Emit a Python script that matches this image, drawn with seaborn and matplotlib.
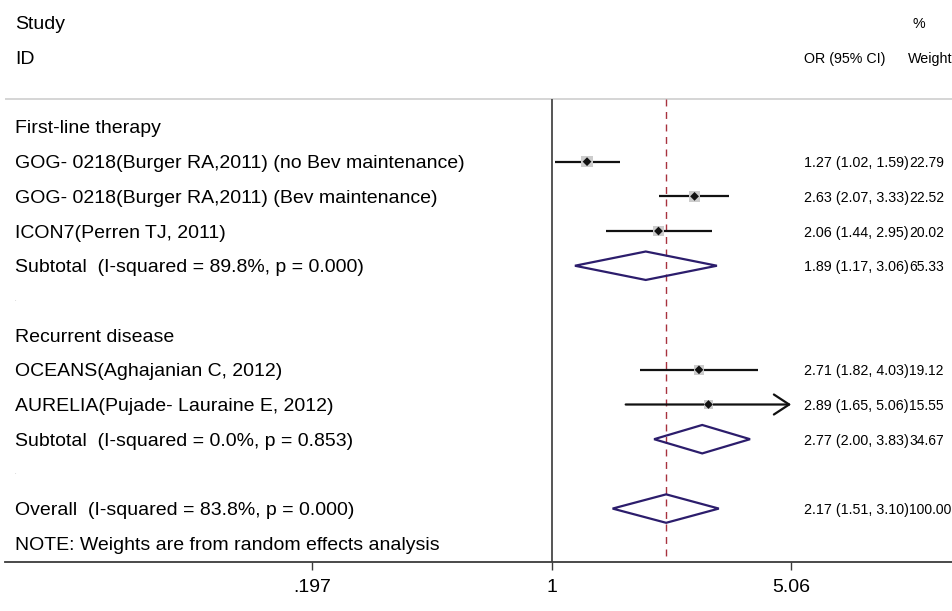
import numpy as np
import pandas as pd
import matplotlib
matplotlib.use("Agg")
import matplotlib.pyplot as plt
from matplotlib.patches import Polygon
import seaborn as sns

# Individual trials: odds ratio, 95% CI and random-effects weight (%)
study_labels = [
    "GOG- 0218(Burger RA,2011) (no Bev maintenance)",
    "GOG- 0218(Burger RA,2011) (Bev maintenance)",
    "ICON7(Perren TJ, 2011)",
    "OCEANS(Aghajanian C, 2012)",
    "AURELIA(Pujade- Lauraine E, 2012)",
]
study_or = [1.27, 2.63, 2.06, 2.71, 2.89]
study_lo = [1.02, 2.07, 1.44, 1.82, 1.65]
study_hi = [1.59, 3.33, 2.95, 4.03, 5.06]
study_wt = [22.79, 22.52, 20.02, 19.12, 15.55]
study_row = [1, 2, 3, 7, 8]

# Pooled estimates (subgroups and overall)
pooled_labels = [
    "Subtotal  (I-squared = 89.8%, p = 0.000)",
    "Subtotal  (I-squared = 0.0%, p = 0.853)",
    "Overall  (I-squared = 83.8%, p = 0.000)",
]
pooled_or = [1.89, 2.77, 2.17]
pooled_lo = [1.17, 2.00, 1.51]
pooled_hi = [3.06, 3.83, 3.10]
pooled_wt = [65.33, 34.67, 100.00]
pooled_row = [4, 9, 11]

group_labels = ["First-line therapy", "Recurrent disease"]
group_row = [0, 6]
spacer_row = [5, 10]
note_text = "NOTE: Weights are from random effects analysis"
note_row = 12

tick_values = [0.197, 1, 5.06]
tick_labels = [".197", "1", "5.06"]
overall_or = pooled_or[-1]

studies = pd.DataFrame({"label": study_labels, "or": study_or, "lo": study_lo,
                        "hi": study_hi, "wt": study_wt, "row": study_row})
pooled = pd.DataFrame({"label": pooled_labels, "or": pooled_or, "lo": pooled_lo,
                       "hi": pooled_hi, "wt": pooled_wt, "row": pooled_row})

sns.set_theme(style="white")
plt.rcParams["font.family"] = ["Liberation Sans", "DejaVu Sans"]
plt.rcParams["text.color"] = "black"
plt.rcParams["xtick.color"] = "black"

W, H = 953, 611
fig = plt.figure(figsize=(W / 100, H / 100), dpi=100)
ax = fig.add_axes([5 / W, 49 / H, 948 / W, 1 - 49 / H])

# x axis on a log scale spanning the whole width; text columns share it
ax.set_xscale("log")
ax.set_xlim(np.exp(-3.702), np.exp(2.717))
ax.set_ylim(12.54, -3.66)

lim_lo, lim_hi = tick_values[0], tick_values[-1]
sep_y = -0.81
y_bottom = 12.54

# header separator and reference lines
ax.axhline(sep_y, color="#d2d2d2", lw=1.3, zorder=1)
ax.vlines(1, sep_y, y_bottom, color="#555555", lw=1.4, zorder=2)
ax.vlines(overall_or, sep_y, y_bottom, color="#a8323e", lw=1.0,
          linestyles=(0, (5, 4)), zorder=2)

# confidence intervals (arrow where the CI runs off the scale)
ci_color = "#111111"
for _, r in studies.iterrows():
    lo = max(r["lo"], lim_lo)
    if r["hi"] >= lim_hi:
        ax.annotate("", xy=(lim_hi, r["row"]), xytext=(lo, r["row"]),
                    arrowprops=dict(arrowstyle="->,head_length=0.55,head_width=0.36",
                                    color=ci_color, lw=1.6, shrinkA=0, shrinkB=0,
                                    mutation_scale=20),
                    zorder=3)
    else:
        ax.hlines(r["row"], lo, r["hi"], color=ci_color, lw=1.6, zorder=3)

# weight boxes and point estimates
sns.scatterplot(data=studies, x="or", y="row", marker="s", s=studies["wt"] * 3.0,
                color="#cccccc", edgecolor="none", ax=ax, zorder=4, legend=False)
sns.scatterplot(data=studies, x="or", y="row", marker="D", s=20,
                color="#111111", edgecolor="none", ax=ax, zorder=5, legend=False)

# pooled diamonds
half_h = 0.41
for _, r in pooled.iterrows():
    pts = [(r["lo"], r["row"]), (r["or"], r["row"] - half_h),
           (r["hi"], r["row"]), (r["or"], r["row"] + half_h)]
    ax.add_patch(Polygon(pts, closed=True, fill=False, edgecolor="#2c1d6c",
                         lw=1.6, joinstyle="miter", zorder=4))

# text columns
tx = ax.get_yaxis_transform()
x_label = 10 / 948
x_ci = 799 / 948
x_wt_head = 903 / 948
x_wt = 904 / 948
big, small, wsize = 14, 10.3, 10

ax.text(x_label, -3, "Study", transform=tx, fontsize=big, va="center_baseline")
ax.text(x_label, -2, "ID", transform=tx, fontsize=big, va="center_baseline")
ax.text(x_wt_head + 5 / 948, -3, "%", transform=tx, fontsize=small, va="center_baseline")
ax.text(x_ci, -2, "OR (95% CI)", transform=tx, fontsize=small, va="center_baseline")
ax.text(x_wt_head, -2, "Weight", transform=tx, fontsize=small, va="center_baseline",
        clip_on=False)

for lab, row in zip(group_labels, group_row):
    ax.text(x_label, row, lab, transform=tx, fontsize=big, va="center_baseline")
for row in spacer_row:
    ax.text(x_label, row - 0.05, ".", transform=tx, fontsize=4, color="#999999",
            va="center_baseline")

for df in (studies, pooled):
    for _, r in df.iterrows():
        ax.text(x_label, r["row"], r["label"], transform=tx, fontsize=big,
                va="center_baseline")
        ax.text(x_ci, r["row"], f"{r['or']:.2f} ({r['lo']:.2f}, {r['hi']:.2f})",
                transform=tx, fontsize=small, va="center_baseline")
        ax.text(x_wt, r["row"], f"{r['wt']:.2f}", transform=tx, fontsize=wsize,
                va="center_baseline")

ax.text(x_label, note_row, note_text, transform=tx, fontsize=big,
        va="center_baseline")

# axis styling
for side in ("left", "right", "top"):
    ax.spines[side].set_visible(False)
ax.spines["bottom"].set_color("#3a3a3a")
ax.spines["bottom"].set_linewidth(1.3)
ax.set_xticks(tick_values)
ax.set_xticklabels(tick_labels)
ax.xaxis.set_minor_locator(matplotlib.ticker.NullLocator())
ax.tick_params(axis="x", direction="out", length=6, width=1.0, color="#3a3a3a",
               labelsize=14, pad=6, bottom=True)
ax.set_yticks([])
ax.set_xlabel("")
ax.set_ylabel("")
ax.grid(False)

fig.savefig("out.png", dpi=100)
